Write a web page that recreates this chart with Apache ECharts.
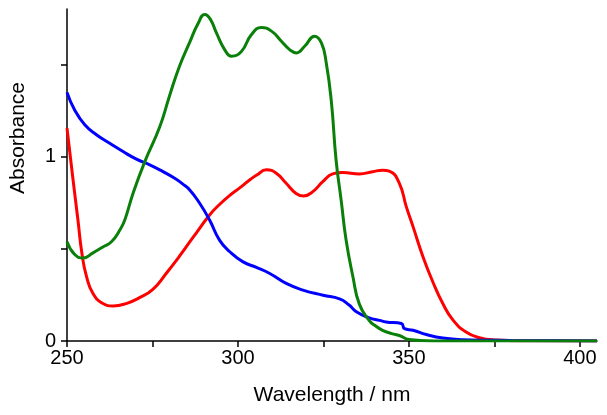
<!DOCTYPE html>
<html>
<head>
<meta charset="utf-8">
<script src="https://cdn.jsdelivr.net/npm/echarts@6/dist/echarts.min.js"></script>
<style>
html,body{margin:0;padding:0;background:#fff;}
#c{width:607px;height:415px;}
</style>
</head>
<body>
<div id="c"></div>
<script>
// Wavelength (nm) and absorbance values
var greenWl  = [250, 252.2, 254.7, 257.6, 260.5, 263, 265.4, 266.9, 269.3, 272.7, 277.1, 280, 282.9, 285.9, 288.3, 290.3, 291.9, 293.7, 296.1, 298.1, 301, 303.9, 306.8, 309.8, 312.7, 315.1, 317.1, 319.5, 322.4, 324.4, 325.8, 327.3, 328.7, 330.2, 331.6, 333.6, 335.5, 338.4, 340, 342.3, 345, 347.2, 350, 355, 360, 380, 405];
var greenAbs = [0.538, 0.47, 0.45, 0.478, 0.51, 0.538, 0.60, 0.656, 0.80, 0.97, 1.16, 1.33, 1.49, 1.62, 1.72, 1.77, 1.745, 1.67, 1.58, 1.544, 1.57, 1.66, 1.70, 1.68, 1.625, 1.58, 1.562, 1.598, 1.652, 1.616, 1.51, 1.30, 0.98, 0.76, 0.55, 0.35, 0.20, 0.11, 0.085, 0.058, 0.04, 0.03, 0.008, 0.002, 0, 0, 0];

var redWl  = [250, 251.6, 253.2, 254.4, 255.7, 257.6, 260.5, 263.5, 267.3, 271.2, 275.1, 279, 282.9, 286.8, 291.7, 294.6, 297.6, 300.5, 303.4, 305.5, 308.3, 311.2, 314.1, 317, 319.2, 321.9, 324.8, 327.7, 330.6, 335.5, 339.4, 342.3, 344.4, 347.2, 349.2, 351.2, 354.1, 357, 359.9, 362.9, 366.7, 370.6, 375.5, 380, 390, 405];
var redAbs = [1.154, 0.9, 0.656, 0.47, 0.35, 0.258, 0.203, 0.19, 0.203, 0.235, 0.28, 0.366, 0.46, 0.56, 0.683, 0.74, 0.79, 0.83, 0.873, 0.90, 0.928, 0.91, 0.855, 0.80, 0.786, 0.81, 0.864, 0.906, 0.913, 0.906, 0.918, 0.926, 0.92, 0.855, 0.73, 0.62, 0.457, 0.32, 0.203, 0.113, 0.049, 0.018, 0.005, 0.002, 0.001, 0];

var blueWl  = [250, 252.2, 255.2, 258.6, 262.5, 266.4, 270.3, 274.2, 278.1, 281.5, 283.8, 285.9, 288.8, 291.7, 294.6, 297.6, 301.5, 305.4, 309.3, 314.1, 319, 324.9, 329.7, 332.5, 334.5, 338.4, 341.4, 343.3, 347.8, 348.7, 351.2, 355.1, 359.9, 365.8, 380, 405];
var blueAbs = [1.348, 1.254, 1.172, 1.118, 1.072, 1.027, 0.986, 0.955, 0.918, 0.882, 0.852, 0.819, 0.747, 0.656, 0.547, 0.484, 0.429, 0.399, 0.366, 0.312, 0.276, 0.248, 0.228, 0.195, 0.16, 0.125, 0.112, 0.103, 0.095, 0.067, 0.058, 0.035, 0.016, 0.007, 0.003, 0];

var xLabels = [250, 300, 350, 400];
var yLabels = [0, 1];

function pairs(xs, ys) { return xs.map(function (x, i) { return [x, ys[i]]; }); }

var FONT = '"Liberation Sans", Arial, sans-serif';
var chart = echarts.init(document.getElementById('c'), null, { renderer: 'canvas' });
function line(name, color, xs, ys) {
  return {
    name: name, type: 'line', data: pairs(xs, ys), showSymbol: false, symbol: 'none',
    smooth: 0.5, lineStyle: { color: color, width: 3 }, animation: false, z: 3
  };
}
chart.setOption({
  animation: false,
  backgroundColor: '#fff',
  grid: { left: 67, right: 10, top: 9, bottom: 74 },
  xAxis: {
    type: 'value', min: 250, max: 405, interval: 25,
    name: 'Wavelength / nm', nameLocation: 'middle', nameGap: 44,
    nameTextStyle: { fontFamily: FONT, fontSize: 21, color: '#000' },
    axisLine: { show: true, onZero: false, lineStyle: { color: '#000', width: 1.5 } },
    axisTick: { show: true, inside: false, length: 6, lineStyle: { color: '#000', width: 1.5 } },
    axisLabel: {
      margin: 7, fontFamily: FONT, fontSize: 20, color: '#000', showMaxLabel: false,
      formatter: function (v) { return xLabels.indexOf(v) >= 0 ? String(v) : ''; }
    },
    splitLine: { show: false }
  },
  yAxis: {
    type: 'value', min: 0, max: 1.8, interval: 0.5,
    axisLine: { show: true, lineStyle: { color: '#000', width: 1.5 } },
    axisTick: { show: true, inside: false, length: 6, lineStyle: { color: '#000', width: 1.5 } },
    axisLabel: {
      margin: 11, fontFamily: FONT, fontSize: 20, color: '#000', showMaxLabel: false,
      formatter: function (v) { return yLabels.indexOf(v) >= 0 ? String(v) : ''; }
    },
    splitLine: { show: false }
  },
  graphic: [{
    type: 'text', x: 18, y: 138, rotation: Math.PI / 2,
    style: { text: 'Absorbance', fontFamily: FONT, fontSize: 21, fill: '#000', align: 'center', verticalAlign: 'middle' }
  }],
  series: [
    line('red', '#ff0000', redWl, redAbs),
    line('blue', '#0000ff', blueWl, blueAbs),
    line('green', '#0a800a', greenWl, greenAbs)
  ]
});
</script>
</body>
</html>
